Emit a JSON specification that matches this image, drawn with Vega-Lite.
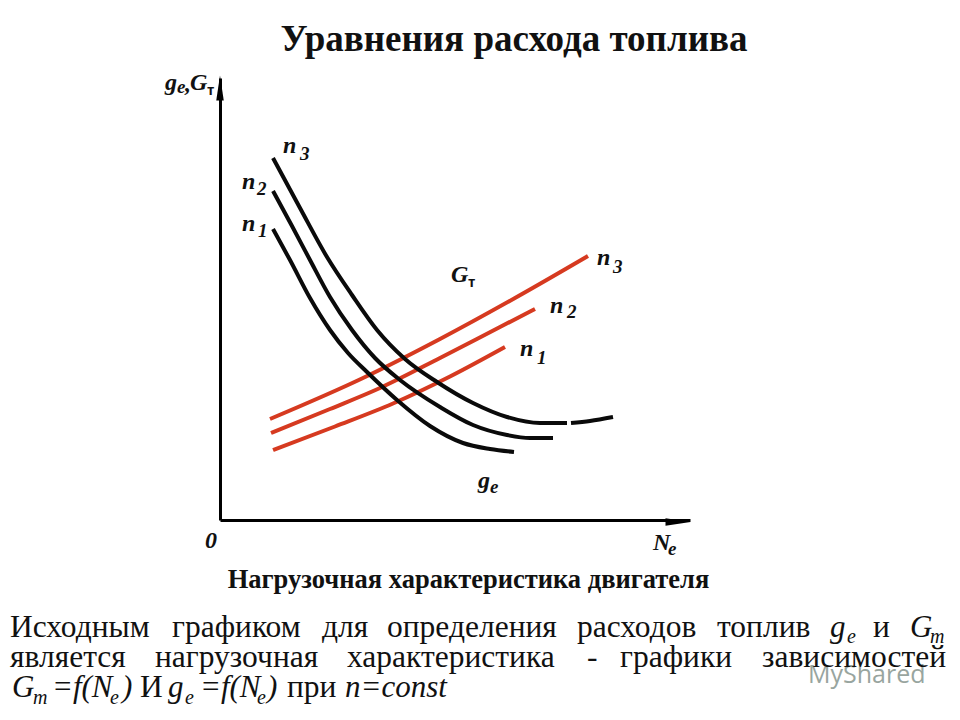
{
  "$schema": "https://vega.github.io/schema/vega-lite/v6.json",
  "autosize": "none",
  "width": 470,
  "height": 442,
  "padding": {"left": 220, "top": 78, "right": 270, "bottom": 200},
  "background": "white",
  "title": {
    "text": "Уравнения расхода топлива",
    "font": "Liberation Serif",
    "fontSize": 37,
    "fontWeight": "bold",
    "color": "#111111",
    "anchor": "middle",
    "dx": 59,
    "offset": 12
  },
  "datasets": {
    "curves": [
      {"series": "Gт n3", "kind": "Gт", "x": 5, "y": 10.1},
      {"series": "Gт n3", "kind": "Gт", "x": 14.3, "y": 14.2},
      {"series": "Gт n3", "kind": "Gт", "x": 22, "y": 18.1},
      {"series": "Gт n3", "kind": "Gт", "x": 29.5, "y": 22.2},
      {"series": "Gт n3", "kind": "Gт", "x": 36.8, "y": 26.4},
      {"series": "Gт n2", "kind": "Gт", "x": 5.1, "y": 8.7},
      {"series": "Gт n2", "kind": "Gт", "x": 11, "y": 11.1},
      {"series": "Gт n2", "kind": "Gт", "x": 16, "y": 13.2},
      {"series": "Gт n2", "kind": "Gт", "x": 22, "y": 16.2},
      {"series": "Gт n2", "kind": "Gт", "x": 28, "y": 19.3},
      {"series": "Gт n2", "kind": "Gт", "x": 31.5, "y": 21.1},
      {"series": "Gт n1", "kind": "Gт", "x": 5.3, "y": 7},
      {"series": "Gт n1", "kind": "Gт", "x": 11.5, "y": 9.35},
      {"series": "Gт n1", "kind": "Gт", "x": 17.3, "y": 11.65},
      {"series": "Gт n1", "kind": "Gт", "x": 23, "y": 14.35},
      {"series": "Gт n1", "kind": "Gт", "x": 28.5, "y": 17.3},
      {"series": "ge n3", "kind": "ge", "x": 5.3, "y": 36.2},
      {"series": "ge n3", "kind": "ge", "x": 8, "y": 31.2},
      {"series": "ge n3", "kind": "ge", "x": 10.7, "y": 26.3},
      {"series": "ge n3", "kind": "ge", "x": 13.2, "y": 22.5},
      {"series": "ge n3", "kind": "ge", "x": 15.7, "y": 19},
      {"series": "ge n3", "kind": "ge", "x": 18.5, "y": 16.1},
      {"series": "ge n3", "kind": "ge", "x": 21.7, "y": 13.8},
      {"series": "ge n3", "kind": "ge", "x": 25.3, "y": 11.7},
      {"series": "ge n3", "kind": "ge", "x": 28.7, "y": 10.3},
      {"series": "ge n3", "kind": "ge", "x": 32, "y": 9.7},
      {"series": "ge n3", "kind": "ge", "x": 34.7, "y": 9.7},
      {"series": "ge n3", "kind": "ge", "x": 34.9, "y": null},
      {"series": "ge n3", "kind": "ge", "x": 35.1, "y": 9.7},
      {"series": "ge n3", "kind": "ge", "x": 37, "y": 9.9},
      {"series": "ge n3", "kind": "ge", "x": 39.3, "y": 10.3},
      {"series": "ge n2", "kind": "ge", "x": 5.3, "y": 32.9},
      {"series": "ge n2", "kind": "ge", "x": 7.2, "y": 29.4},
      {"series": "ge n2", "kind": "ge", "x": 9, "y": 26},
      {"series": "ge n2", "kind": "ge", "x": 11, "y": 22.3},
      {"series": "ge n2", "kind": "ge", "x": 13.2, "y": 19},
      {"series": "ge n2", "kind": "ge", "x": 15.5, "y": 16.2},
      {"series": "ge n2", "kind": "ge", "x": 18, "y": 14},
      {"series": "ge n2", "kind": "ge", "x": 22, "y": 11.3},
      {"series": "ge n2", "kind": "ge", "x": 25.3, "y": 9.5},
      {"series": "ge n2", "kind": "ge", "x": 28.7, "y": 8.5},
      {"series": "ge n2", "kind": "ge", "x": 31, "y": 8.2},
      {"series": "ge n2", "kind": "ge", "x": 33.3, "y": 8.2},
      {"series": "ge n1", "kind": "ge", "x": 5.3, "y": 29.1},
      {"series": "ge n1", "kind": "ge", "x": 7, "y": 26},
      {"series": "ge n1", "kind": "ge", "x": 9, "y": 22.2},
      {"series": "ge n1", "kind": "ge", "x": 11, "y": 19},
      {"series": "ge n1", "kind": "ge", "x": 12.8, "y": 16.7},
      {"series": "ge n1", "kind": "ge", "x": 14.7, "y": 14.8},
      {"series": "ge n1", "kind": "ge", "x": 17.7, "y": 12},
      {"series": "ge n1", "kind": "ge", "x": 21, "y": 9.4},
      {"series": "ge n1", "kind": "ge", "x": 24.3, "y": 7.7},
      {"series": "ge n1", "kind": "ge", "x": 27, "y": 7.1},
      {"series": "ge n1", "kind": "ge", "x": 29.4, "y": 6.8}
    ],
    "labels": [
      {"text": "g", "x": -5.5, "y": 43},
      {"text": ",", "x": -3.5, "y": 42.9},
      {"text": "G", "x": -3, "y": 43},
      {"text": "n", "x": 6.3, "y": 36.7},
      {"text": "n", "x": 2.2, "y": 33.1},
      {"text": "n", "x": 2.2, "y": 28.9},
      {"text": "G", "x": 23.1, "y": 23.8},
      {"text": "n", "x": 37.7, "y": 25.5},
      {"text": "n", "x": 33, "y": 20.7},
      {"text": "n", "x": 30, "y": 16.4},
      {"text": "g", "x": 25.8, "y": 3.2},
      {"text": "N", "x": 43.3, "y": -3},
      {"text": "0", "x": -1.5, "y": -2.8}
    ],
    "labelSubs": [
      {"text": "e", "x": -4.3, "y": 42.7},
      {"text": "3", "x": 8, "y": 36},
      {"text": "2", "x": 3.7, "y": 32.5},
      {"text": "1", "x": 3.8, "y": 28.3},
      {"text": "3", "x": 39.3, "y": 24.7},
      {"text": "2", "x": 34.7, "y": 20.2},
      {"text": "1", "x": 31.7, "y": 15.6},
      {"text": "e", "x": 27, "y": 2.7},
      {"text": "e", "x": 44.8, "y": -3.5}
    ],
    "labelSubsUpright": [
      {"text": "т", "x": -1.3, "y": 42.5},
      {"text": "т", "x": 24.8, "y": 23.3}
    ],
    "words": [
      {"text": "Исходным", "x": -21, "y": -11.7},
      {"text": "графиком", "x": -4.8, "y": -11.7},
      {"text": "для", "x": 10.2, "y": -11.7},
      {"text": "определения", "x": 16.7, "y": -11.7},
      {"text": "расходов", "x": 35.7, "y": -11.7},
      {"text": "топлив", "x": 49.7, "y": -11.7},
      {"text": "и", "x": 65.3, "y": -11.7},
      {"text": "является", "x": -21, "y": -14.7},
      {"text": "нагрузочная", "x": -6.5, "y": -14.7},
      {"text": "характеристика", "x": 12.7, "y": -14.7},
      {"text": "-", "x": 36.7, "y": -14.7},
      {"text": "графики", "x": 40, "y": -14.7},
      {"text": "зависимостей", "x": 54.2, "y": -14.7},
      {"text": "И", "x": -8, "y": -17.7},
      {"text": "при", "x": 6.7, "y": -17.7}
    ],
    "wordsItalic": [
      {"text": "g", "x": 61, "y": -11.7},
      {"text": "G", "x": 69, "y": -11.7},
      {"text": "G", "x": -20.8, "y": -17.7},
      {"text": "=f(N", "x": -16.8, "y": -17.7},
      {"text": ")", "x": -9.8, "y": -17.7},
      {"text": "g", "x": -5.2, "y": -17.7},
      {"text": "=f(N", "x": -2, "y": -17.7},
      {"text": ")", "x": 4.7, "y": -17.7},
      {"text": "n=const", "x": 12.5, "y": -17.7}
    ],
    "wordsSub": [
      {"text": "e", "x": 62.7, "y": -12.3},
      {"text": "m", "x": 71, "y": -12.3},
      {"text": "m", "x": -18.7, "y": -18.4},
      {"text": "e", "x": -11, "y": -18.4},
      {"text": "e", "x": -3.5, "y": -18.4},
      {"text": "e", "x": 3.7, "y": -18.4}
    ]
  },
  "data": {"name": "curves"},
  "encoding": {
    "x": {
      "field": "x",
      "type": "quantitative",
      "scale": {"domain": [0, 47], "nice": false, "zero": false},
      "axis": {
        "title": "Нагрузочная характеристика двигателя",
        "titleFont": "Liberation Serif",
        "titleFontSize": 26.5,
        "titleFontWeight": "bold",
        "titleColor": "#111111",
        "titleBaseline": "alphabetic",
        "titleX": 248,
        "titleY": 67,
        "titleLimit": 600,
        "labels": false,
        "ticks": false,
        "grid": false,
        "domainColor": "#000000",
        "domainWidth": 3
      }
    },
    "y": {
      "field": "y",
      "type": "quantitative",
      "scale": {"domain": [0, 44.2], "nice": false, "zero": false},
      "axis": {
        "title": null,
        "labels": false,
        "ticks": false,
        "grid": false,
        "domainColor": "#000000",
        "domainWidth": 3
      }
    }
  },
  "layer": [
    {
      "mark": {"type": "line", "strokeWidth": 4, "interpolate": "monotone", "strokeCap": "butt"},
      "encoding": {
        "detail": {"field": "series"},
        "color": {
          "field": "kind",
          "type": "nominal",
          "scale": {"domain": ["Gт", "ge"], "range": ["#d63a20", "#0a0a0a"]},
          "legend": null
        },
        "order": {"field": "kind", "sort": "ascending"}
      }
    },
    {
      "data": {"values": [{"x": 0, "y": 43.2}]},
      "mark": {"type": "point", "filled": true, "opacity": 1, "size": 625, "color": "#000000", "shape": "M-0.3,1L0,-1L0.3,1Z"}
    },
    {
      "data": {"values": [{"x": 45.8, "y": -0.2}]},
      "mark": {"type": "point", "filled": true, "opacity": 1, "size": 625, "color": "#000000", "shape": "M-1,-0.3L1,0L-1,0.3Z"}
    },
    {
      "data": {"name": "labels"},
      "mark": {"type": "text", "align": "left", "baseline": "alphabetic", "font": "Liberation Serif", "fontSize": 24, "fontWeight": "bold", "fontStyle": "italic", "color": "#111111"},
      "encoding": {"text": {"field": "text"}}
    },
    {
      "data": {"name": "labelSubs"},
      "mark": {"type": "text", "align": "left", "baseline": "alphabetic", "font": "Liberation Serif", "fontSize": 19, "fontWeight": "bold", "fontStyle": "italic", "color": "#111111"},
      "encoding": {"text": {"field": "text"}}
    },
    {
      "data": {"name": "labelSubsUpright"},
      "mark": {"type": "text", "align": "left", "baseline": "alphabetic", "font": "Liberation Sans", "fontSize": 15, "fontWeight": "bold", "color": "#111111"},
      "encoding": {"text": {"field": "text"}}
    },
    {
      "data": {"values": [{"text": "MyShared", "x": 58.8, "y": -16.3}]},
      "mark": {"type": "text", "align": "left", "baseline": "alphabetic", "font": "Open Sans", "fontSize": 25, "color": "#7f8f88", "opacity": 0.8},
      "encoding": {"text": {"field": "text"}}
    },
    {
      "data": {"name": "words"},
      "mark": {"type": "text", "align": "left", "baseline": "alphabetic", "font": "Liberation Serif", "fontSize": 31.5, "color": "#111111"},
      "encoding": {"text": {"field": "text"}}
    },
    {
      "data": {"name": "wordsItalic"},
      "mark": {"type": "text", "align": "left", "baseline": "alphabetic", "font": "Liberation Serif", "fontSize": 31, "fontStyle": "italic", "color": "#111111"},
      "encoding": {"text": {"field": "text"}}
    },
    {
      "data": {"name": "wordsSub"},
      "mark": {"type": "text", "align": "left", "baseline": "alphabetic", "font": "Liberation Serif", "fontSize": 20, "fontStyle": "italic", "color": "#111111"},
      "encoding": {"text": {"field": "text"}}
    }
  ],
  "config": {"view": {"stroke": null}}
}
